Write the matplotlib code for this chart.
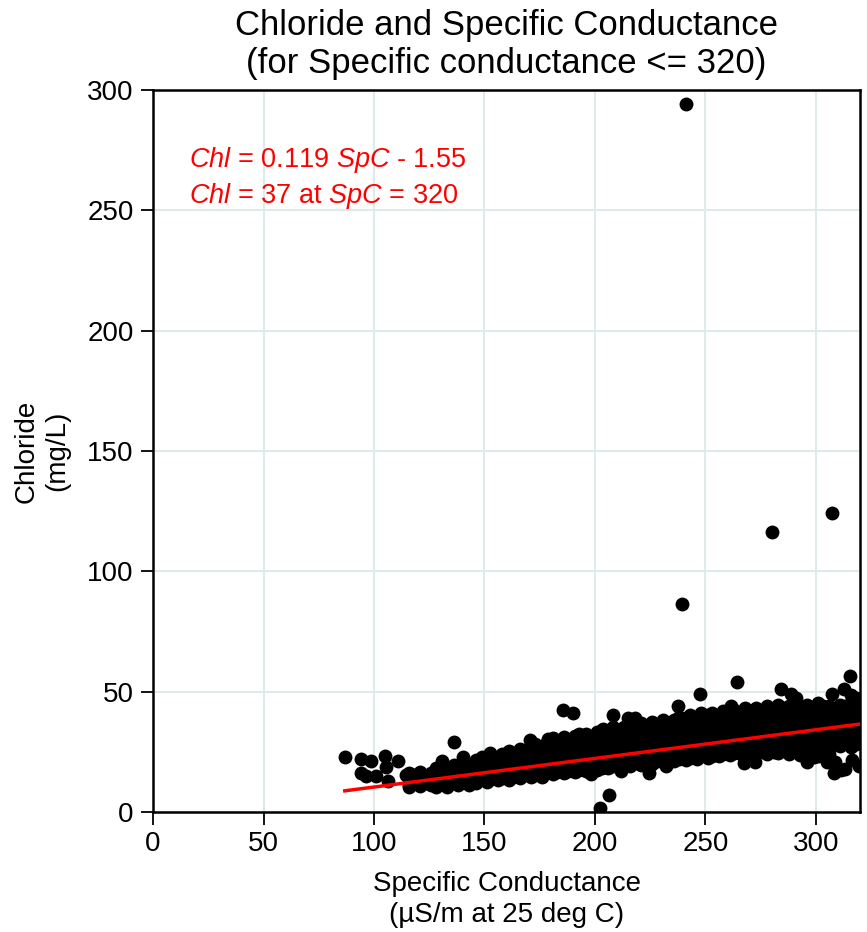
import matplotlib

matplotlib.use("Agg")
import matplotlib.pyplot as plt  # noqa: E402
import numpy as np  # noqa: E402

plt.rcParams["font.family"] = ["Liberation Sans", "DejaVu Sans"]
plt.rcParams["mathtext.fontset"] = "custom"
plt.rcParams["mathtext.rm"] = "Liberation Sans"
plt.rcParams["mathtext.it"] = "Liberation Sans:italic"

# scattered / outlying samples (SpC, Chl)
out_spc = [241.3, 280.2, 307.3, 239.5, 202.3, 206.5, 86.8, 94.3, 98.8, 104.8, 110.7, 94.3,
           96.6, 101.0, 105.6, 106.2, 116.0, 114.6, 130.9, 136.0, 140.5, 149.0, 152.6, 170.4,
           178.6, 185.4, 190.0, 203.5, 208.0, 214.8, 218.3, 237.4, 247.5, 261.5, 264.5, 284.1,
           288.6, 291.1, 307.1, 312.7, 315.3, 315.7, 224.6, 267.5, 272.5, 296.1, 299.1, 305.2,
           308.6, 308.2, 311.2, 316.5, 318.7, 318.6, 319.5, 313.0, 198.0, 212.0, 232.0, 176.0]
out_chl = [294.1, 116.3, 124.2, 86.4, 1.5, 7.1, 22.8, 22.0, 21.3, 23.3, 21.3, 16.2,
           15.0, 15.0, 18.8, 13.0, 10.5, 15.4, 21.3, 29.2, 23.0, 23.0, 24.5, 29.9,
           30.3, 42.4, 41.2, 34.3, 40.3, 38.9, 38.9, 44.1, 49.0, 44.1, 54.1, 51.1,
           49.2, 47.2, 49.2, 50.9, 56.5, 48.6, 16.1, 20.2, 20.8, 20.9, 23.0, 20.9,
           20.9, 16.1, 17.5, 21.6, 29.9, 45.8, 19.0, 18.0, 15.8, 17.1, 19.2, 14.6]

# dense band of samples, one column of Chl values per SpC value
band_spc = [116, 118, 121, 123, 126, 128, 131, 133, 136, 138, 141, 143, 146, 148, 151, 153,
            156, 158, 161, 163, 166, 168, 171, 173, 176, 178, 181, 183, 186, 188, 191, 193,
            196, 198, 201, 203, 206, 208, 211, 213, 216, 218, 221, 223, 226, 228, 231, 233,
            236, 238, 241, 243, 246, 248, 251, 253, 256, 258, 261, 263, 266, 268, 271, 273,
            276, 278, 281, 283, 286, 288, 291, 293, 296, 298, 301, 303, 306, 308, 311, 313,
            316, 318]
band_chl = [
    [11.2, 14.1, 16.3], [12.4, 15.2], [10.6, 13.1, 16.8], [12.2, 14.4],
    [11.1, 13.7, 16.2], [10.3, 12.6, 15.4, 18.1], [11.6, 14.2, 16.4], [10.5, 13.3, 15.1, 18.6],
    [12.1, 14.6, 17.2, 19.4], [11.3, 13.4, 16.1, 18.2], [12.6, 15.1, 17.3, 20.2], [11.4, 14.2, 16.7, 19.1],
    [12.1, 14.4, 17.2, 19.6, 21.4], [13.2, 15.6, 18.1, 20.7], [12.4, 15.3, 17.6, 20.1, 22.3], [13.6, 16.1, 18.4, 21.2, 23.4],
    [13.1, 15.7, 18.2, 20.4, 22.7], [14.2, 16.4, 19.1, 21.6, 24.2], [13.4, 16.2, 18.7, 21.1, 23.2, 25.4], [14.6, 17.1, 19.4, 22.2, 24.6],
    [14.1, 16.6, 19.2, 21.4, 24.1, 26.3], [15.2, 17.4, 20.1, 22.6, 25.2], [14.6, 17.2, 19.6, 22.1, 24.4, 27.2], [15.4, 18.1, 20.7, 23.1, 25.6, 28.1],
    [15.1, 17.6, 20.2, 22.4, 25.1, 27.6], [16.2, 18.4, 21.1, 23.6, 26.2, 28.4], [15.6, 18.2, 20.4, 23.1, 25.7, 28.1, 30.6], [16.4, 19.1, 21.6, 24.2, 26.4, 29.2],
    [16.1, 18.6, 21.2, 23.4, 26.1, 28.7, 31.2], [17.2, 19.4, 22.1, 24.6, 27.2, 29.4], [16.7, 19.2, 21.4, 24.1, 26.6, 29.2, 31.4], [17.4, 20.1, 22.7, 25.2, 27.4, 30.1, 32.6],
    [17.1, 19.6, 22.2, 24.4, 27.1, 29.7, 32.2], [18.2, 20.4, 23.1, 25.6, 28.2, 30.4], [17.6, 20.2, 22.4, 25.1, 27.6, 30.2, 33.1], [18.4, 21.1, 23.7, 26.2, 28.4, 31.1, 34.2],
    [18.1, 20.6, 23.2, 25.4, 28.1, 30.7, 33.2], [19.2, 21.4, 24.1, 26.6, 29.2, 31.4, 35.1], [18.6, 21.2, 23.4, 26.1, 28.6, 31.2, 33.4], [19.4, 22.1, 24.7, 27.2, 29.4, 32.1, 35.2],
    [19.1, 21.6, 24.2, 26.4, 29.1, 31.7, 34.2], [20.2, 22.4, 25.1, 27.6, 30.2, 32.4, 35.6], [19.6, 22.2, 24.4, 27.1, 29.6, 32.2, 34.4, 37.1], [20.4, 23.1, 25.7, 28.2, 30.4, 33.1, 35.6],
    [20.1, 22.6, 25.2, 27.4, 30.1, 32.7, 35.2, 37.4], [21.2, 23.4, 26.1, 28.6, 31.2, 33.4, 36.1], [20.6, 23.2, 25.4, 28.1, 30.6, 33.2, 35.4, 38.1], [21.4, 24.1, 26.7, 29.2, 31.4, 34.1, 36.6],
    [21.1, 23.6, 26.2, 28.4, 31.1, 33.7, 36.2, 38.4], [22.2, 24.4, 27.1, 29.6, 32.2, 34.4, 37.1, 39.6], [21.6, 24.2, 26.4, 29.1, 31.6, 34.2, 36.4, 39.1], [22.4, 25.1, 27.7, 30.2, 32.4, 35.1, 37.6, 40.2],
    [22.1, 24.6, 27.2, 29.4, 32.1, 34.7, 37.2, 39.4], [23.2, 25.4, 28.1, 30.6, 33.2, 35.4, 38.1, 41.1], [22.6, 25.2, 27.4, 30.1, 32.6, 35.2, 37.4, 40.1], [23.4, 26.1, 28.7, 31.2, 33.4, 36.1, 38.6, 41.2],
    [23.1, 25.6, 28.2, 30.4, 33.1, 35.7, 38.2, 40.4], [24.2, 26.4, 29.1, 31.6, 34.2, 36.4, 39.1, 42.1], [23.6, 26.2, 28.4, 31.1, 33.6, 36.2, 38.4, 41.1], [24.4, 27.1, 29.7, 32.2, 34.4, 37.1, 39.6, 42.4],
    [24.1, 26.6, 29.2, 31.4, 34.1, 36.7, 39.2, 41.4], [25.2, 27.4, 30.1, 32.6, 35.2, 37.4, 40.1, 43.1], [24.6, 27.2, 29.4, 32.1, 34.6, 37.2, 39.4, 42.1], [25.4, 28.1, 30.7, 33.2, 35.4, 38.1, 40.6, 43.4],
    [25.1, 27.6, 30.2, 32.4, 35.1, 37.7, 40.2, 42.4], [24.2, 26.4, 29.1, 31.6, 34.2, 36.4, 39.1, 41.6, 44.1], [25.1, 27.6, 30.2, 32.4, 35.1, 37.7, 40.2, 42.6], [24.6, 27.2, 29.4, 32.1, 34.6, 37.2, 39.4, 42.1, 44.4],
    [25.4, 28.1, 30.7, 33.2, 35.4, 38.1, 40.6, 43.1], [24.1, 26.6, 29.2, 31.4, 34.1, 36.7, 39.2, 41.4, 44.2], [25.2, 27.4, 30.1, 32.6, 35.2, 37.4, 40.1, 42.6], [23.6, 26.2, 28.4, 31.1, 33.6, 36.2, 38.4, 41.1, 43.4],
    [24.4, 27.1, 29.7, 32.2, 34.4, 37.1, 39.6, 42.2, 44.6], [26.1, 28.6, 31.2, 33.4, 36.1, 38.7, 41.2, 43.1], [23.2, 25.4, 28.1, 30.6, 33.2, 35.4, 38.1, 40.6, 43.2, 45.4], [27.1, 29.6, 32.2, 34.4, 37.1, 39.6, 42.2, 44.1],
    [24.1, 26.6, 29.2, 31.4, 34.1, 36.7, 39.2, 41.4, 44.2], [28.2, 30.4, 33.1, 35.6, 38.2, 40.4, 43.1], [27.4, 29.7, 32.2, 34.4, 37.1, 39.6, 42.2, 44.6], [29.1, 31.6, 34.2, 36.4, 39.1, 41.7, 44.2],
    [27.2, 30.1, 33.2, 36.1, 39.2, 42.1, 45.2], [28.1, 29.4, 32.1, 35.2, 38.1, 41.2, 44.1, 47.2],
]

# fitted line Chl = 0.119 SpC - 1.55
fit_spc = [86.8, 320.0]
slope, intercept = 0.119, -1.55

spc = np.concatenate([out_spc, np.repeat(band_spc, [len(c) for c in band_chl])])
chl = np.concatenate([out_chl, [v for c in band_chl for v in c]])

fig = plt.figure(figsize=(8.67, 9.32), dpi=100)
ax = fig.add_axes([0.1765, 0.1288, 0.8155, 0.7746])
ax.grid(True, color="#e1eaea", lw=1.5, zorder=0)
ax.scatter(spc, chl, s=100, color="black", lw=0, zorder=2)
fx = np.array(fit_spc)
ax.plot(fx, slope * fx + intercept, color="red", lw=2.5, zorder=3)

ax.set_xlim(0, 320); ax.set_ylim(0, 300)
ax.set_xticks(np.arange(0, 301, 50)); ax.set_yticks(np.arange(0, 301, 50))
ax.tick_params(labelsize=20, length=9, width=1.3, direction="out", pad=5)
for sp in ax.spines.values():
    sp.set_linewidth(1.8)
ax.set_axisbelow(True)

ax.text(16.5, 271, r"$Chl$ = 0.119 $SpC$ - 1.55", color="red", fontsize=19.5, va="center", ha="left")
ax.text(16.5, 256, r"$Chl$ = 37 at $SpC$ = 320", color="red", fontsize=19.5, va="center", ha="left")

ax.set_title("Chloride and Specific Conductance\n(for Specific conductance <= 320)",
             fontsize=25, linespacing=1.2, pad=12)
ax.set_xlabel("Specific Conductance\n(µS/m at 25 deg C)", fontsize=20, labelpad=10, linespacing=1.25)
ax.set_ylabel("Chloride\n(mg/L)", fontsize=20, labelpad=12, linespacing=1.25)

fig.savefig("out.png", dpi=100)
